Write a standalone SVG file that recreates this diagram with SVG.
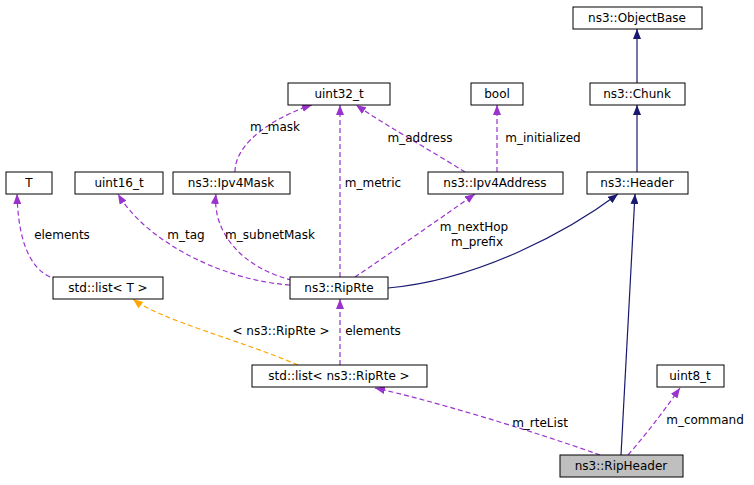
<svg xmlns="http://www.w3.org/2000/svg" width="754" height="485" viewBox="0 0 754 485">
<style>
text{font-family:"DejaVu Sans",sans-serif;font-size:12px;fill:#000}
.n rect{fill:#fff;stroke:#000;stroke-width:1}
.n text{text-anchor:middle}
.s{fill:none;stroke:#191970;stroke-width:1.2}
.p{fill:none;stroke:#9a32cd;stroke-width:1.2;stroke-dasharray:5,3}
.o{fill:none;stroke:#ffa500;stroke-width:1.2;stroke-dasharray:5,3}
.l{text-anchor:middle}
</style>
<defs>
<marker id="an" markerWidth="10" markerHeight="8" refX="10" refY="4" orient="auto" markerUnits="userSpaceOnUse"><path d="M0,0L10,4L0,8z" fill="#191970"/></marker>
<marker id="ap" markerWidth="10" markerHeight="8" refX="10" refY="4" orient="auto" markerUnits="userSpaceOnUse"><path d="M0,0L10,4L0,8z" fill="#9a32cd"/></marker>
<marker id="ao" markerWidth="10" markerHeight="8" refX="10" refY="4" orient="auto" markerUnits="userSpaceOnUse"><path d="M0,0L10,4L0,8z" fill="#ffa500"/></marker>
</defs>
<g id="edges">
<path class="s" marker-end="url(#an)" d="M637,83L637,29"/>
<path class="s" marker-end="url(#an)" d="M637,172L637,105"/>
<path class="s" marker-end="url(#an)" d="M388,288C480,280 570,230 618,194"/>
<path class="s" marker-end="url(#an)" d="M621,455L635,194"/>
<path class="p" marker-end="url(#ap)" d="M235,172C235,140 280,115 312,105"/>
<path class="p" marker-end="url(#ap)" d="M465,172C430,150 385,125 356,105"/>
<path class="p" marker-end="url(#ap)" d="M497,172L497,105"/>
<path class="p" marker-end="url(#ap)" d="M340,277L340,105"/>
<path class="p" marker-end="url(#ap)" d="M50,277C25,265 18,230 17,194"/>
<path class="p" marker-end="url(#ap)" d="M290,285C220,280 145,240 118,194"/>
<path class="p" marker-end="url(#ap)" d="M300,282C240,270 212,230 216,194"/>
<path class="p" marker-end="url(#ap)" d="M355,277C395,250 445,215 475,194"/>
<path class="o" marker-end="url(#ao)" d="M298,365C240,340 160,320 133,299"/>
<path class="p" marker-end="url(#ap)" d="M340,365L340,299"/>
<path class="p" marker-end="url(#ap)" d="M600,455C530,430 430,400 375,388"/>
<path class="p" marker-end="url(#ap)" d="M628,455C650,430 668,405 680,388"/>
<text class="l" x="275" y="131">m_mask</text>
<text class="l" x="420" y="142">m_address</text>
<text class="l" x="543" y="142">m_initialized</text>
<text class="l" x="373" y="187">m_metric</text>
<text class="l" x="62" y="239">elements</text>
<text class="l" x="186" y="239">m_tag</text>
<text class="l" x="270" y="239">m_subnetMask</text>
<text class="l" x="474" y="231">m_nextHop</text>
<text class="l" x="477" y="246">m_prefix</text>
<text class="l" x="281" y="335">&lt; ns3::RipRte &gt;</text>
<text class="l" x="373" y="335">elements</text>
<text class="l" x="540" y="427">m_rteList</text>
<text class="l" x="705" y="424">m_command</text>
</g>
<g id="ObjectBase" class="n"><rect x="573" y="7" width="129" height="22"/><text x="637" y="22">ns3::ObjectBase</text></g>
<g id="Chunk" class="n"><rect x="590" y="83" width="95" height="22"/><text x="637" y="98">ns3::Chunk</text></g>
<g id="Header" class="n"><rect x="587" y="172" width="101" height="22"/><text x="637" y="187">ns3::Header</text></g>
<g id="uint32" class="n"><rect x="288" y="83" width="102" height="22"/><text x="339" y="98">uint32_t</text></g>
<g id="bool" class="n"><rect x="471" y="83" width="52" height="22"/><text x="497" y="98">bool</text></g>
<g id="T" class="n"><rect x="6" y="172" width="46" height="22"/><text x="29" y="187">T</text></g>
<g id="uint16" class="n"><rect x="75" y="172" width="88" height="22"/><text x="119" y="187">uint16_t</text></g>
<g id="Ipv4Mask" class="n"><rect x="173" y="172" width="117" height="22"/><text x="231" y="187">ns3::Ipv4Mask</text></g>
<g id="Ipv4Address" class="n"><rect x="428" y="172" width="135" height="22"/><text x="495" y="187">ns3::Ipv4Address</text></g>
<g id="listT" class="n"><rect x="53" y="277" width="110" height="22"/><text x="108" y="292">std::list&lt; T &gt;</text></g>
<g id="RipRte" class="n"><rect x="290" y="277" width="98" height="22"/><text x="339" y="292">ns3::RipRte</text></g>
<g id="listRipRte" class="n"><rect x="252" y="365" width="175" height="22"/><text x="339" y="380">std::list&lt; ns3::RipRte &gt;</text></g>
<g id="uint8" class="n"><rect x="657" y="365" width="67" height="22"/><text x="690" y="380">uint8_t</text></g>
<g id="RipHeader" class="n"><rect x="560" y="455" width="123" height="22" style="fill:#bfbfbf"/><text x="621" y="470">ns3::RipHeader</text></g>
</svg>
